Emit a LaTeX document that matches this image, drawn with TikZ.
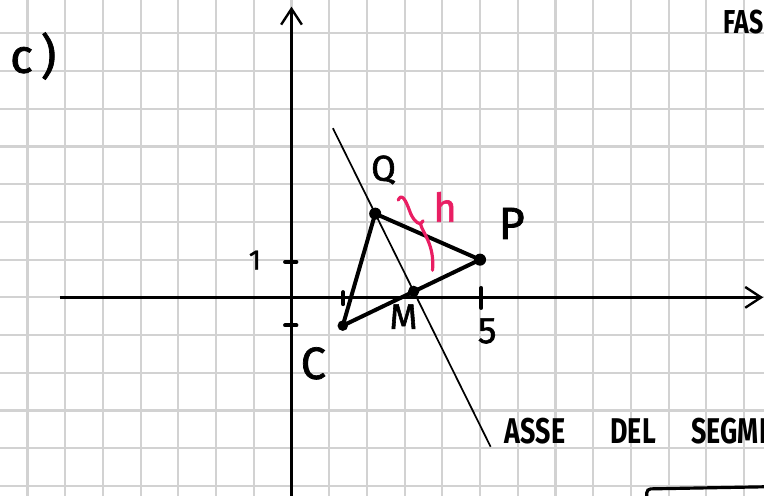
\documentclass[tikz,border=0pt]{standalone}
\usepackage{fontspec}
\setmainfont{Fira Sans}
\newfontfamily\penfont[FakeBold=1.6]{Fira Sans}
\newfontfamily\capfont[FakeStretch=0.75]{Fira Sans}
\usetikzlibrary{arrows.meta,calc,positioning}
\definecolor{markpink}{RGB}{233,30,99}

\tikzset{
  gridline/.style={line width=1.6pt, gray!35},
  axis/.style={line width=1.8pt, -{Straight Barb[length=0.42cm,width=0.55cm]}},
  tri/.style={line width=3pt, line join=round, line cap=round},
  tickmark/.style={line width=3pt, line cap=round},
  lbl/.style={inner sep=0pt, font=\penfont\fontsize{27}{30}\selectfont},
  biglbl/.style={inner sep=0pt, font=\penfont\fontsize{34}{38}\selectfont},
  caption/.style={inner sep=0pt, anchor=base west, font=\capfont\bfseries\fontsize{27}{30}\selectfont},
}

\begin{document}
\begin{tikzpicture}

% ================= SHEET =================
\path[use as bounding box, clip] (-7.73,-5.244) rectangle (12.53,7.886);
\draw[gridline] (-7.8,-5.3) grid (12.6,7.9);

% Axes
\draw[axis] (-6.14,0) -- (12.51,0);
\draw[axis] (0,-5.3) -- (0,7.71);

% --- Ticks ---
\draw[tickmark] (-0.17,0.94) -- (0.13,0.94);
\draw[tickmark] (-0.17,-0.74) -- (0.13,-0.74);
\draw[tickmark] (1.37,0.14) -- (1.37,-0.18);
\draw[tickmark] (5.03,0.25) -- (5.03,-0.28);

\node[lbl, font=\penfont\fontsize{21}{24}\selectfont] (lbl1) at (-0.97,0.99) {1};
\node[lbl, font=\penfont\fontsize{28}{30}\selectfont] (lbl5) at (5.19,-0.89) {5};

% ================= TRIANGLE =================
\coordinate (P) at (5.0,1.0);
\coordinate (Q) at (2.22,2.22);
\coordinate (C) at (1.36,-0.75);
\coordinate (M) at (3.24,0.16);

% --- Axis of segment ---
\coordinate (asseTop) at ($(Q)!-1.1!(M)$);
\coordinate (asseBot) at ($(Q)!3!(M)$);
\draw[line width=1.3pt] (asseTop) -- (asseBot);

\draw[tri] (Q) -- (P) -- (C) -- cycle;

% --- Points ---
\fill (P) circle (0.16);
\fill (Q) circle (0.16);
\fill (C) circle (0.14);
\fill (M) circle (0.15);

% --- Point labels ---
\node[lbl]    (lblQ) at (2.44,3.38)  {Q};
\node[biglbl] (lblP) at (5.84,1.96)  {P};
\node[biglbl] (lblC) at (0.58,-1.75) {C};
\node[lbl]    (lblM) at (2.97,-0.51) {M};

% --- Height h ---
\draw[markpink, line width=2.4pt, line cap=round, line join=round]
  (2.83,2.58) .. controls (2.92,2.78) and (3.03,2.58) .. (3.13,2.30)
  .. controls (3.2,2.1) and (3.3,1.97) .. (3.42,1.95) -- (3.49,2.03);
\draw[markpink, line width=2.4pt, line cap=round]
  (3.42,1.95) .. controls (3.48,1.7) and (3.8,1.4) .. (3.74,0.72);
\node[markpink, inner sep=0pt, font=\penfont\fontsize{30}{32}\selectfont] (lblh) at (4.07,2.40) {h};

% ================= TEXTS =================
\node[inner sep=0pt, font=\penfont\fontsize{36}{40}\selectfont] (part) at (-6.85,6.4) {c\,)};
\node[caption, font=\capfont\bfseries\fontsize{25}{28}\selectfont] (fas) at (11.45,7.01) {FAS};

\node[caption] (asse) at (5.65,-3.87)  {ASSE};
\node[caption] (del)  at (8.45,-3.87)  {DEL};
\node[caption] (segm) at (10.6,-3.87) {SEGMENTO};

% --- Box corner ---
\draw[line width=2.4pt, rounded corners=3pt] (9.42,-5.4) -- (9.42,-5.08) -- (12.7,-5.02);

\end{tikzpicture}
\end{document}
